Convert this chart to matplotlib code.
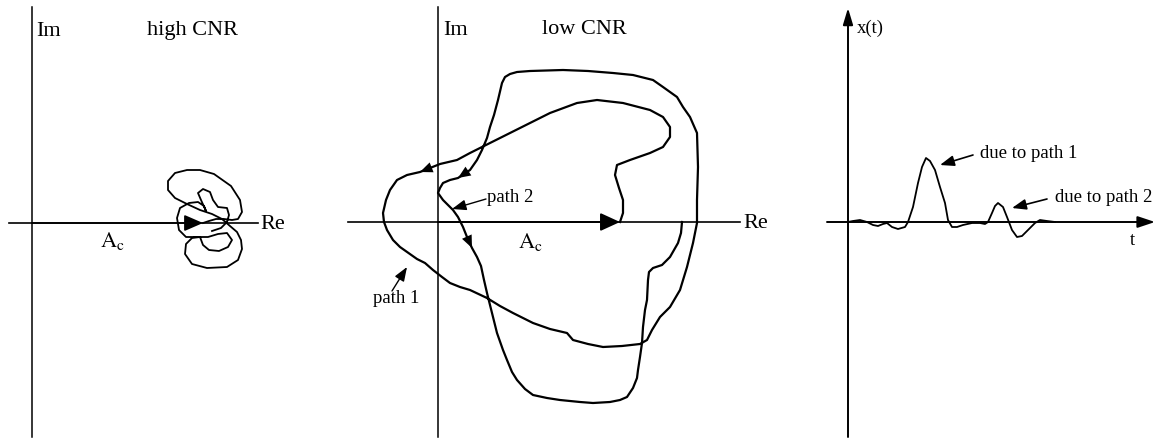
#phasor diagrams, high vs low CNR, plus the output pulse
import numpy as np
import matplotlib.pyplot as plt

plt.rcParams['font.family'] = ['Liberation Serif', 'DejaVu Serif']
plt.rcParams['mathtext.fontset'] = 'stix'

# everything is in pixel units of the 1157 x 441 picture

# high CNR scribble around the phasor tip
hc_x = [203, 209, 216, 224, 232, 238, 242, 240, 231, 214, 200, 187, 175, 168, 168, 175, 187, 200,
        212, 222, 230, 237, 241, 242, 238, 227, 207, 192, 185, 186, 192, 200, 203, 209, 219, 228,
        232, 227, 218, 208, 196, 186, 179, 177, 180, 189, 198, 204, 206, 201, 198, 203, 210, 213,
        218, 227, 229, 227, 221, 212]
hc_y = [223, 221, 219, 219, 220, 219, 212, 200, 186, 174, 170, 170, 173, 181, 190, 198, 204, 210,
        214, 219, 226, 232, 240, 249, 260, 267, 268, 264, 254, 244, 238, 237, 245, 250, 251, 247,
        240, 233, 234, 237, 237, 237, 230, 218, 208, 203, 202, 206, 211, 200, 193, 189, 192, 200,
        207, 208, 215, 222, 228, 231]

# low CNR trajectory (path 1 loops round the origin, then path 2)
lc_x = [620, 623, 623, 619, 615, 617, 630, 650, 663, 670, 670, 663, 650, 623, 597, 577, 550, 530,
        510, 490, 470, 457, 440, 420, 407, 397, 390, 386, 383, 384, 387, 393, 400, 410, 417, 425,
        433, 442, 450, 460, 470, 487, 500, 513, 533, 550, 567, 573, 588, 603, 622, 640, 647, 652,
        660, 670, 680, 687, 690, 693, 697, 697, 698, 697, 690, 683, 677, 663, 653, 633, 613, 588,
        563, 530, 517, 510, 505, 502, 498, 494, 490, 487, 482, 477, 470, 458, 450, 443, 440, 438, 443,
        448, 453, 458, 463, 467, 472, 477, 481, 484, 487, 490, 497, 503, 507, 512, 517, 525, 533,
        547, 560, 580, 593, 610, 620, 627, 633, 637, 638, 640, 642, 643, 645, 647, 648, 649, 653,
        662, 670, 678, 681, 682]
lc_y = [222, 213, 200, 188, 175, 165, 160, 153, 147, 137, 127, 117, 110, 103, 100, 103, 113, 123,
        133, 143, 153, 160, 164, 172, 175, 180, 190, 200, 213, 222, 230, 240, 247, 254, 259, 263,
        270, 277, 283, 287, 290, 298, 306, 313, 323, 329, 333, 340, 344, 347, 346, 344, 340, 330,
        317, 307, 290, 267, 255, 243, 223, 200, 167, 133, 117, 107, 97, 87, 80, 75, 73, 71,
        70, 71, 72, 74, 77, 83, 100, 115, 127, 138, 150, 160, 170, 178, 180, 183, 188, 193, 200,
        205, 210, 217, 227, 237, 248, 257, 266, 280, 293, 305, 333, 350, 360, 372, 380, 389, 395,
        398, 400, 402, 403, 402, 400, 397, 388, 378, 370, 357, 343, 327, 310, 300, 280, 272, 268,
        265, 257, 243, 233, 222]
lc_arrows = [23, 85, 96]

# x(t) after the discriminator
sig_t = [848, 853, 860, 867, 873, 878, 883, 887, 892, 898, 905, 908, 913, 918, 922, 926, 930, 935,
         940, 945, 948, 952, 957, 963, 972, 980, 985, 988, 992, 995, 998, 1003, 1007, 1012, 1017,
         1022, 1028, 1035, 1040, 1047, 1055]
sig_x = [222, 221, 220, 222, 225, 226, 224, 223, 227, 229, 227, 222, 207, 183, 167, 158, 161, 170,
         187, 203, 220, 227, 227, 225, 223, 223, 224, 222, 213, 206, 203, 207, 217, 230, 237,
         236, 230, 223, 220, 221, 222]

fig = plt.figure(figsize=(11.57, 4.41), dpi=100)
ax = fig.add_axes([0, 0, 1, 1])
ax.set_xlim(0, 1157)
ax.set_ylim(441, 0)
ax.axis('off')

def arrow(tail, tip, hl, hw, lw=1.2):
    ax.annotate('', xy=tip, xytext=tail,
                arrowprops=dict(arrowstyle='-|>,head_length=%g,head_width=%g' % (hl, hw),
                                mutation_scale=10, color='k', lw=lw,
                                shrinkA=0, shrinkB=0))

# panel 1 - high CNR
ax.plot([32, 32], [7, 437], color='k', lw=1.1)
ax.plot([9, 258], [223, 223], color='k', lw=1.2)
arrow((32, 223), (203, 223), 1.15, 0.5)
ax.plot(hc_x, hc_y, color='k', lw=1.3, solid_joinstyle='round')
ax.text(36, 36, 'Im', fontsize=16)
ax.text(147, 35, 'high CNR', fontsize=16)
ax.text(260, 229, 'Re', fontsize=16)
ax.text(100, 247, r'$\mathrm{A_c}$', fontsize=16)

# panel 2 - low CNR
ax.plot([438, 438], [7, 437], color='k', lw=1.1)
ax.plot([348, 740], [222, 222], color='k', lw=1.2)
arrow((438, 222), (lc_x[0], lc_y[0]), 1.2, 0.55, lw=1.4)
ax.plot(lc_x, lc_y, color='k', lw=1.6, solid_joinstyle='round')
for i in lc_arrows:
    arrow((lc_x[i - 1], lc_y[i - 1]), (lc_x[i], lc_y[i]), 0.9, 0.38, lw=0)
ax.text(443, 35, 'Im', fontsize=16)
ax.text(542, 34, 'low CNR', fontsize=16)
ax.text(743, 228, 'Re', fontsize=16)
ax.text(518, 248, r'$\mathrm{A_c}$', fontsize=16)
ax.text(487, 202, 'path 2', fontsize=13.5)
arrow((486, 199), (452, 209), 0.85, 0.32, lw=1)
ax.text(373, 303, 'path 1', fontsize=13.5)
arrow((392, 291), (407, 267), 0.85, 0.32, lw=1)

# panel 3 - output
arrow((848, 437), (848, 8), 1.0, 0.3, lw=1.4)
arrow((827, 222), (1155, 222), 1.05, 0.35, lw=1.4)
ax.plot(sig_t, sig_x, color='k', lw=1.3, solid_joinstyle='round')
ax.text(857, 33, 'x(t)', fontsize=13.5)
ax.text(1130, 245, 't', fontsize=13.5)
ax.text(980, 158, 'due to path 1', fontsize=13.5)
arrow((973, 155), (940, 165), 0.85, 0.32, lw=1.2)
ax.text(1055, 202, 'due to path 2', fontsize=13.5)
arrow((1047, 199), (1012, 208), 0.85, 0.32, lw=1.2)

fig.savefig('out.png', dpi=100)
